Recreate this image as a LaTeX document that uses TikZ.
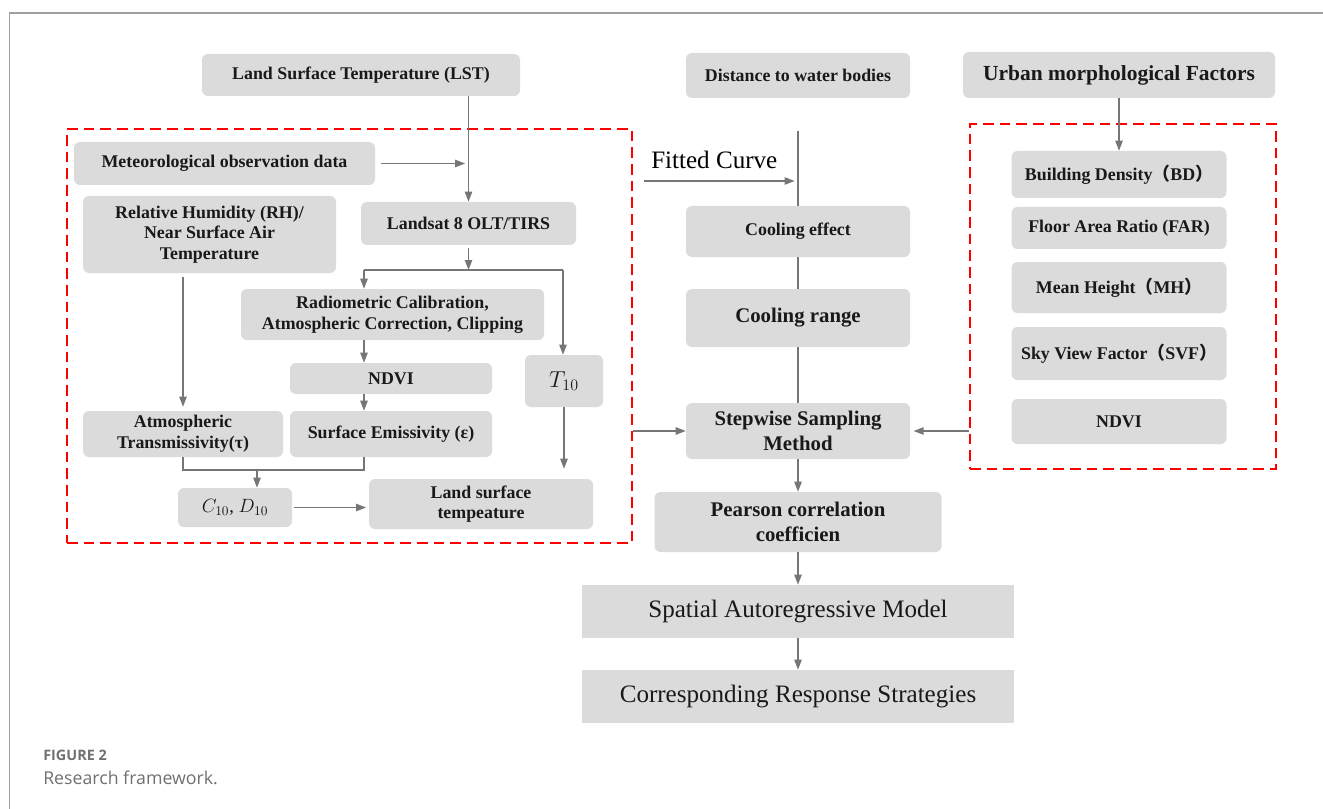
\documentclass[tikz,border=0pt]{standalone}
\usepackage{fontspec}
\setmainfont{Liberation Serif}
\newfontfamily\capfont{Open Sans}
\newfontfamily\cjk{Noto Sans CJK SC}
\usetikzlibrary{arrows.meta}
\definecolor{boxgray}{RGB}{219,219,219}
\definecolor{linegray}{RGB}{118,118,118}
\definecolor{capgray}{RGB}{112,112,112}
\begin{document}
\begin{tikzpicture}[x=0.75pt, y=-0.75pt,
  box/.style 2 args={fill=boxgray, rounded corners=4.5pt, minimum width=#1*0.75pt, minimum height=#2*0.75pt, inner sep=1pt, align=center, text=black!90, font=\fontsize{13.4}{15.5}\selectfont\bfseries},
  sqbox/.style 2 args={fill=boxgray, minimum width=#1*0.75pt, minimum height=#2*0.75pt, inner sep=1pt, align=center, text=black!90, font=\fontsize{18.8}{20}\selectfont},
  big/.style={font=\fontsize{15.6}{18.5}\selectfont\bfseries},
  redframe/.style 2 args={draw=red, line width=2pt, dash pattern=on 8pt off 4.5pt, minimum width=#1*0.75pt, minimum height=#2*0.75pt, inner sep=0pt},
  flow/.style={draw=linegray, line width=1pt, -{Triangle[length=7.5pt, width=5.5pt]}},
  link/.style={draw=linegray, line width=1pt}]
\useasboundingbox (0,0) rectangle (1323,809);
\draw [gray!75, line width=1.2pt] (9.3,809) -- (9.3,13.3) -- (1323,13.3);
\node [redframe={565}{414}] (frameL) at (349.5,336) {};
\node [redframe={306}{345}] (frameR) at (1123,296.5) {};
\node [box={318}{42}] (lst) at (361,75) {Land Surface Temperature (LST)};
\node [box={301}{43}] (met) at (224.5,163.5) {Meteorological observation data};
\node [box={253}{77}] (rh) at (209.5,234.5) {Relative Humidity (RH)/\\Near Surface Air\\Temperature};
\node [box={215}{43}] (landsat) at (468.5,223.5) {Landsat 8 OLT/TIRS};
\node [box={303}{51}] (radio) at (392.5,314.5) {Radiometric Calibration,\\Atmospheric Correction, Clipping};
\node [box={202}{31}] (ndvi) at (391,378.5) {NDVI};
\node [box={78}{52}, font=\fontsize{16.5}{18}\selectfont] (tten) at (564,381) {$T_{10}$};
\node [box={200}{46}] (atm) at (183,434) {Atmospheric\\Transmissivity(τ)};
\node [box={202}{46}] (emis) at (391,434) {Surface Emissivity (ε)};
\node [box={114}{39}, font=\fontsize{13.8}{15}\selectfont] (cd) at (235,507.5) {$C_{10}$, $D_{10}$};
\node [box={224}{50}] (lsto) at (481,504) {Land surface\\tempeature};
\node [box={224}{45}] (dist) at (798,75.5) {Distance to water bodies};
\node [box={312}{46}, font=\fontsize{16.1}{18}\selectfont\bfseries] (urban) at (1119,75) {Urban morphological Factors};
\node [anchor=west, inner sep=0pt, font=\fontsize{18.8}{20}\selectfont] (fitted) at (651,160) {Fitted Curve};
\node [box={224}{51}] (effect) at (798,231.5) {Cooling effect};
\node [box={224}{58}, big] (range) at (798,318) {Cooling range};
\node [box={224}{56}, big] (stepwise) at (798,431) {Stepwise Sampling\\Method};
\node [box={287}{60}, big] (pearson) at (798,522) {Pearson correlation\\coefficien};
\node [sqbox={432}{53}] (sar) at (798,611.5) {Spatial Autoregressive Model};
\node [sqbox={432}{53}] (crs) at (798,696.5) {Corresponding Response Strategies};
\node [box={215}{47}] (bd) at (1119,174.5) {Building Density{\cjk（}BD{\cjk）}};
\node [box={215}{42}] (far) at (1119,228) {Floor Area Ratio (FAR)};
\node [box={215}{51}] (mh) at (1119,287.5) {Mean Height{\cjk（}MH{\cjk）}};
\node [box={215}{53}] (svf) at (1119,353.5) {Sky View Factor{\cjk（}SVF{\cjk）}};
\node [box={215}{45}] (ndvib) at (1119,421.5) {NDVI};
\node [anchor=west, inner sep=0pt, text=capgray, font=\capfont\fontsize{10.8}{12}\selectfont\bfseries] (figno) at (43,755) {FIGURE 2};
\node [anchor=west, inner sep=0pt, text=capgray, font=\capfont\fontsize{13.3}{15}\selectfont] (caption) at (43,778) {Research framework.};
\coordinate (split) at (468.5,270);
\coordinate (bl) at (364,270);
\coordinate (br) at (563,270);
\coordinate (jn) at (257,470);
\coordinate (curve) at (798,131);
\coordinate (fitin) at (644,181);
\draw [flow] (lst.south -| landsat.north) -- (landsat.north);
\draw [flow, shorten <=4.5pt, shorten >=2.5pt] (met.east) -- (met.east -| landsat.north);
\draw [flow, shorten <=2pt] (landsat.south) -- (split);
\draw [link] (bl) -- (br);
\draw [flow] (bl) -- (bl |- radio.north);
\draw [flow] (br) -- (br |- tten.north);
\draw [flow] (bl |- radio.south) -- (bl |- ndvi.north);
\draw [flow] (bl |- ndvi.south) -- (bl |- emis.north);
\draw [flow, shorten <=3pt, shorten >=3pt] (atm.north |- rh.south) -- (atm.north);
\draw [link] (atm.south) |- (jn) -| (bl |- emis.south);
\draw [flow] (jn) -- (jn |- cd.north);
\draw [flow, shorten <=1pt, shorten >=2pt] (cd.east) -- (cd.east -| lsto.west);
\draw [flow, shorten >=7.5pt] (tten.south) -- (tten.south |- lsto.north);
\draw [link] (curve) -- (effect.north);
\draw [flow, shorten >=2.5pt] (fitin) -- (fitin -| curve);
\draw [link] (effect.south) -- (range.north);
\draw [link] (range.south) -- (stepwise.north);
\draw [flow] (frameL.east |- stepwise.west) -- (stepwise.west);
\draw [flow, shorten >=2.5pt] (frameR.west |- stepwise.east) -- (stepwise.east);
\draw [flow] (urban.south) -- (urban.south |- bd.north);
\draw [flow] (stepwise.south) -- (pearson.north);
\draw [flow] (pearson.south) -- (sar.north);
\draw [flow] (sar.south) -- (crs.north);
\end{tikzpicture}
\end{document}
